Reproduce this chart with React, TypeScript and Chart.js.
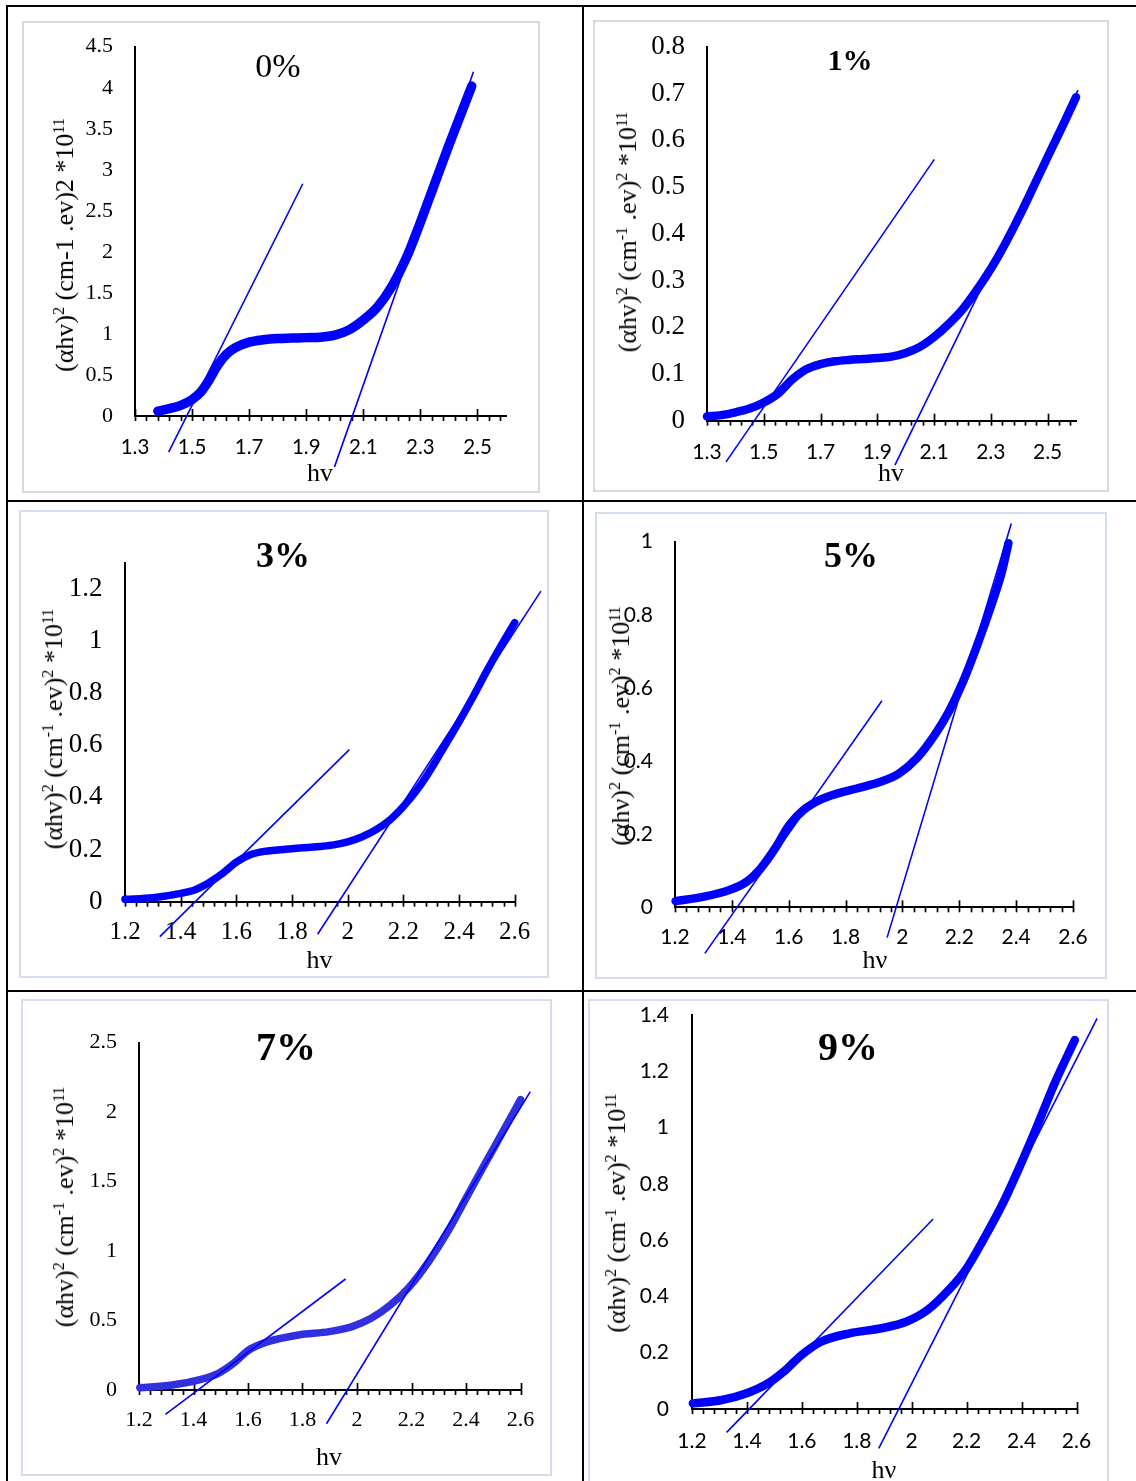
import React, { useEffect, useRef } from "react";
import { Chart, registerables } from "chart.js";
Chart.register(...registerables);

// ---------------- DATA ----------------
// hv (eV) and (αhν)² ×10¹¹
const hv_0 = [1.38, 1.42, 1.46, 1.5, 1.53, 1.56, 1.59, 1.62, 1.65, 1.7, 1.75, 1.8, 1.85, 1.9, 1.95, 2.0, 2.05, 2.1, 2.15, 2.2, 2.25, 2.3, 2.35, 2.4, 2.45, 2.48];
const abs_0 = [0.06, 0.09, 0.13, 0.2, 0.29, 0.44, 0.62, 0.75, 0.83, 0.9, 0.93, 0.945, 0.95, 0.955, 0.96, 0.985, 1.05, 1.17, 1.33, 1.58, 1.92, 2.36, 2.83, 3.3, 3.75, 4.02];

const hv_1 = [1.3, 1.35, 1.4, 1.45, 1.5, 1.55, 1.6, 1.65, 1.7, 1.75, 1.8, 1.85, 1.9, 1.95, 2.0, 2.05, 2.1, 2.15, 2.2, 2.25, 2.3, 2.35, 2.4, 2.45, 2.5, 2.55, 2.6];
const abs_1 = [0.009, 0.012, 0.018, 0.026, 0.039, 0.058, 0.088, 0.11, 0.121, 0.127, 0.13, 0.132, 0.134, 0.137, 0.145, 0.158, 0.179, 0.206, 0.238, 0.279, 0.325, 0.378, 0.437, 0.5, 0.564, 0.627, 0.692];

const hv_3 = [1.2, 1.3, 1.4, 1.45, 1.5, 1.55, 1.6, 1.65, 1.7, 1.8, 1.9, 1.95, 2.0, 2.05, 2.1, 2.15, 2.2, 2.25, 2.3, 2.35, 2.4, 2.45, 2.5, 2.55, 2.6];
const abs_3 = [0.009, 0.015, 0.032, 0.045, 0.072, 0.108, 0.152, 0.18, 0.193, 0.203, 0.212, 0.218, 0.229, 0.248, 0.275, 0.312, 0.365, 0.43, 0.51, 0.6, 0.69, 0.785, 0.885, 0.98, 1.07];

const hv_5 = [1.202, 1.302, 1.39, 1.452, 1.502, 1.552, 1.602, 1.652, 1.7, 1.739, 1.839, 1.926, 1.988, 2.051, 2.113, 2.163, 2.213, 2.263, 2.313, 2.35, 2.373];
const abs_5 = [0.017, 0.029, 0.047, 0.07, 0.107, 0.161, 0.225, 0.266, 0.29, 0.303, 0.325, 0.344, 0.366, 0.408, 0.471, 0.535, 0.617, 0.717, 0.827, 0.918, 0.996];

const hv_7 = [1.203, 1.322, 1.42, 1.491, 1.547, 1.603, 1.673, 1.785, 1.898, 1.982, 2.052, 2.123, 2.193, 2.263, 2.333, 2.403, 2.473, 2.544, 2.6];
const abs_7 = [0.017, 0.036, 0.072, 0.12, 0.192, 0.288, 0.348, 0.396, 0.42, 0.456, 0.516, 0.612, 0.744, 0.924, 1.14, 1.39, 1.64, 1.89, 2.09];

const hv_9 = [1.203, 1.309, 1.399, 1.476, 1.541, 1.599, 1.67, 1.774, 1.89, 1.98, 2.058, 2.135, 2.2, 2.264, 2.329, 2.393, 2.458, 2.523, 2.594];
const abs_9 = [0.02, 0.032, 0.056, 0.091, 0.139, 0.192, 0.239, 0.269, 0.287, 0.31, 0.352, 0.423, 0.5, 0.607, 0.725, 0.861, 1.009, 1.163, 1.311];

// tangent (extrapolation) lines: [x1, x2], [y1, y2]
const tanA_0 = { x: [1.418, 1.888], y: [-0.44, 2.83] };
const tanB_0 = { x: [1.999, 2.486], y: [-0.62, 4.195] };
const tanA_1 = { x: [1.367, 2.101], y: [-0.088, 0.559] };
const tanB_1 = { x: [1.962, 2.607], y: [-0.095, 0.707] };
const tanA_3 = { x: [1.325, 2.006], y: [-0.134, 0.583] };
const tanB_3 = { x: [1.892, 2.694], y: [-0.125, 1.191] };
const tanA_5 = { x: [1.305, 1.928], y: [-0.126, 0.565] };
const tanB_5 = { x: [1.946, 2.383], y: [-0.083, 1.05] };
const tanA_7 = { x: [1.297, 1.958], y: [-0.175, 0.799] };
const tanB_7 = { x: [1.888, 2.636], y: [-0.243, 2.148] };
const tanA_9 = { x: [1.326, 2.078], y: [-0.083, 0.675] };
const tanB_9 = { x: [1.88, 2.675], y: [-0.14, 1.388] };

// tick labels
const xTicksOdd = [1.3, 1.5, 1.7, 1.9, 2.1, 2.3, 2.5];
const xTicksEven = [1.2, 1.4, 1.6, 1.8, 2, 2.2, 2.4, 2.6];
const yTicks_0 = [0, 0.5, 1, 1.5, 2, 2.5, 3, 3.5, 4, 4.5];
const yTicks_1 = [0, 0.1, 0.2, 0.3, 0.4, 0.5, 0.6, 0.7, 0.8];
const yTicks_3 = [0, 0.2, 0.4, 0.6, 0.8, 1, 1.2];
const yTicks_5 = [0, 0.2, 0.4, 0.6, 0.8, 1];
const yTicks_7 = [0, 0.5, 1, 1.5, 2, 2.5];
const yTicks_9 = [0, 0.2, 0.4, 0.6, 0.8, 1, 1.2, 1.4];

const titles = ["0%", "1%", "3%", "5%", "7%", "9%"];

// ---------------- LAYOUT / STYLE ----------------
const SERIF = "'Liberation Serif', 'Times New Roman', serif";
const SANS = "Lato, 'Liberation Sans', sans-serif";
const GRAY = "#d9d9d9";
const BLUEF = "#d3dff0";

type Pt = { x: number[]; y: number[] };
type Cfg = {
  frame: number[]; frameColor: string; canvasH?: number;
  area: number[];
  xMin: number; xMax: number; yMax: number;
  xTicks: number[]; yTicks: number[];
  hv: number[]; val: number[]; tanA: Pt; tanB: Pt;
  curveColor: string; curveWidth: number;
  yFont: [string, number]; yPad: number;
  xFont: [string, number]; xPad: number;
  title: string; titleBold: boolean; titleSize: number; titlePos: number[];
  yTitleOld: boolean; nu: boolean; yTitlePos: number[]; xTitlePos: number[];
};

const panels: Cfg[] = [
  {
    frame: [22, 21, 518, 472], frameColor: GRAY, area: [135, 46.7, 506, 416],
    xMin: 1.3, xMax: 2.6, yMax: 4.5, xTicks: xTicksOdd, yTicks: yTicks_0,
    hv: hv_0, val: abs_0, tanA: tanA_0, tanB: tanB_0, curveColor: "#0000ff", curveWidth: 9.5,
    yFont: [SERIF, 22], yPad: 22, xFont: [SANS, 20.5], xPad: 19,
    title: titles[0], titleBold: false, titleSize: 34, titlePos: [278, 66],
    yTitleOld: true, nu: false, yTitlePos: [65, 245], xTitlePos: [320, 473],
  },
  {
    frame: [593, 20, 516, 472], frameColor: GRAY, area: [707, 46.7, 1076, 420.7],
    xMin: 1.3, xMax: 2.6, yMax: 0.8, xTicks: xTicksOdd, yTicks: yTicks_1,
    hv: hv_1, val: abs_1, tanA: tanA_1, tanB: tanB_1, curveColor: "#0000ff", curveWidth: 8.5,
    yFont: [SERIF, 27], yPad: 22, xFont: [SANS, 21], xPad: 19,
    title: titles[1], titleBold: true, titleSize: 30, titlePos: [850, 60],
    yTitleOld: false, nu: false, yTitlePos: [628, 232], xTitlePos: [891, 473],
  },
  {
    frame: [19, 510, 530, 468], frameColor: BLUEF, area: [125, 562.7, 514.7, 901.7],
    xMin: 1.2, xMax: 2.6, yMax: 1.3, xTicks: xTicksEven, yTicks: yTicks_3,
    hv: hv_3, val: abs_3, tanA: tanA_3, tanB: tanB_3, curveColor: "#0000ff", curveWidth: 7.5,
    yFont: [SERIF, 27], yPad: 22.5, xFont: [SERIF, 25], xPad: 16,
    title: titles[2], titleBold: true, titleSize: 36, titlePos: [283, 555],
    yTitleOld: false, nu: false, yTitlePos: [54, 729], xTitlePos: [319.5, 960],
  },
  {
    frame: [595, 512, 512, 467], frameColor: BLUEF, area: [675, 541.7, 1073, 907.3],
    xMin: 1.2, xMax: 2.6, yMax: 1, xTicks: xTicksEven, yTicks: yTicks_5,
    hv: hv_5, val: abs_5, tanA: tanA_5, tanB: tanB_5, curveColor: "#0000ff", curveWidth: 8.5,
    yFont: [SANS, 21], yPad: 22, xFont: [SANS, 21], xPad: 17.6,
    title: titles[3], titleBold: true, titleSize: 36, titlePos: [851, 555],
    yTitleOld: false, nu: true, yTitlePos: [621, 726], xTitlePos: [875, 960],
  },
  {
    frame: [21, 999, 531, 477], frameColor: BLUEF, area: [139, 1042.7, 520.5, 1390],
    xMin: 1.2, xMax: 2.6, yMax: 2.5, xTicks: xTicksEven, yTicks: yTicks_7,
    hv: hv_7, val: abs_7, tanA: tanA_7, tanB: tanB_7, curveColor: "#3030e0", curveWidth: 7.5,
    yFont: [SERIF, 22], yPad: 22, xFont: [SERIF, 22], xPad: 17,
    title: titles[4], titleBold: true, titleSize: 40, titlePos: [286, 1047],
    yTitleOld: false, nu: false, yTitlePos: [65, 1207], xTitlePos: [329, 1457],
  },
  {
    frame: [588, 999, 521, 500], frameColor: BLUEF, canvasH: 482, area: [692, 1015, 1076.5, 1409],
    xMin: 1.2, xMax: 2.6, yMax: 1.4, xTicks: xTicksEven, yTicks: yTicks_9,
    hv: hv_9, val: abs_9, tanA: tanA_9, tanB: tanB_9, curveColor: "#0000ff", curveWidth: 8.5,
    yFont: [SANS, 21], yPad: 23, xFont: [SANS, 21], xPad: 19.4,
    title: titles[5], titleBold: true, titleSize: 40, titlePos: [848, 1047],
    yTitleOld: false, nu: true, yTitlePos: [617, 1213], xTitlePos: [884, 1470],
  },
];

const fmt = (v: number) => String(Math.round(v * 1000) / 1000);

const excelTicks = {
  id: "excelTicks",
  beforeDatasetsDraw(chart: any, _args: any, opts: any) {
    const xs = chart.scales.x;
    const ys = chart.scales.y;
    const y0 = ys.getPixelForValue(0);
    const ctx = chart.ctx;
    ctx.save();
    ctx.strokeStyle = "#000";
    ctx.lineWidth = 1.7;
    const n = Math.floor((opts.max - opts.min) / opts.step + 1e-6);
    for (let i = 0; i <= n; i++) {
      const v = opts.min + i * opts.step;
      const px = Math.round(xs.getPixelForValue(v)) + 0.5;
      const major = i % opts.every === 0;
      ctx.beginPath();
      ctx.moveTo(px, major ? y0 - 7 : y0);
      ctx.lineTo(px, y0 + 5);
      ctx.stroke();
    }
    ctx.restore();
  },
};

function Panel({ p }: { p: Cfg }) {
  const ref = useRef<HTMLCanvasElement>(null);
  const [fx, fy, fw, fh] = p.frame;
  const ch = p.canvasH ?? fh;
  useEffect(() => {
    const [l, t, r, b] = p.area;
    const toPts = (xs: number[], ys: number[]) => xs.map((x, i) => ({ x, y: ys[i] }));
    const chart = new Chart(ref.current as HTMLCanvasElement, {
      type: "line",
      data: {
        datasets: [
          {
            data: toPts(p.tanA.x, p.tanA.y), borderColor: "#0000ff", borderWidth: 1.6,
            pointRadius: 0, clip: false as any, order: 0,
          },
          {
            data: toPts(p.tanB.x, p.tanB.y), borderColor: "#0000ff", borderWidth: 1.6,
            pointRadius: 0, clip: false as any, order: 0,
          },
          {
            data: toPts(p.hv, p.val), borderColor: p.curveColor, borderWidth: p.curveWidth,
            pointRadius: 0, cubicInterpolationMode: "monotone", borderCapStyle: "round",
            borderJoinStyle: "round", clip: false as any, order: 1,
          },
        ],
      } as any,
      options: {
        responsive: false,
        animation: false,
        events: [],
        layout: { padding: { left: 0, top: t - fy, right: fx + fw - r, bottom: 0 } },
        plugins: {
          legend: { display: false },
          tooltip: { enabled: false },
          excelTicks: { min: p.xMin, max: p.xMax, step: 0.04, every: 5 },
        } as any,
        scales: {
          x: {
            type: "linear", min: p.xMin, max: p.xMax,
            grid: { display: false, drawTicks: false },
            border: { display: true, color: "#000", width: 2 },
            ticks: {
              autoSkip: false, maxRotation: 0, minRotation: 0, padding: p.xPad, color: "#000",
              font: { family: p.xFont[0], size: p.xFont[1] },
              callback: (v: any) => fmt(Number(v)),
            },
            afterBuildTicks: (s: any) => { s.ticks = p.xTicks.map((v) => ({ value: v })); },
            afterFit: (s: any) => {
              s.height = fy + ch - b;
              s.paddingLeft = 0; s.paddingRight = 0; s.paddingTop = 0; s.paddingBottom = 0;
            },
          },
          y: {
            type: "linear", min: 0, max: p.yMax,
            grid: { display: false, drawTicks: false },
            border: { display: true, color: "#000", width: 2 },
            ticks: {
              autoSkip: false, padding: p.yPad, color: "#000",
              font: { family: p.yFont[0], size: p.yFont[1] },
              callback: (v: any) => fmt(Number(v)),
            },
            afterBuildTicks: (s: any) => { s.ticks = p.yTicks.map((v) => ({ value: v })); },
            afterFit: (s: any) => {
              s.width = l - fx;
              s.paddingLeft = 0; s.paddingRight = 0; s.paddingTop = 0; s.paddingBottom = 0;
            },
          },
        } as any,
      },
      plugins: [excelTicks as any],
    });
    return () => chart.destroy();
  }, []);

  const sup: React.CSSProperties = { fontSize: "0.62em", verticalAlign: "0.55em", lineHeight: 0 };
  const h = p.nu ? "hν" : "hv";
  const yTitle = p.yTitleOld ? (
    <>(α{h})<span style={sup}>2</span> (cm-1 .ev)2 *10<span style={sup}>11</span></>
  ) : (
    <>(α{h})<span style={sup}>2</span> (cm<span style={sup}>-1</span> .ev)<span style={sup}>2</span> *10<span style={sup}>11</span></>
  );
  const center: React.CSSProperties = {
    position: "absolute", whiteSpace: "nowrap", lineHeight: 1, color: "#000",
    fontFamily: SERIF,
  };
  return (
    <>
      <div
        style={{
          position: "absolute", left: fx, top: fy, width: fw, height: fh,
          border: `2px solid ${p.frameColor}`, boxSizing: "border-box", background: "#fff",
        }}
      />
      <canvas
        ref={ref}
        width={fw}
        height={ch}
        style={{ position: "absolute", left: fx, top: fy, width: fw, height: ch }}
      />
      <div
        style={{
          ...center, left: p.titlePos[0], top: p.titlePos[1], fontSize: p.titleSize,
          fontWeight: p.titleBold ? "bold" : "normal", transform: "translate(-50%,-50%)",
        }}
      >
        {p.title}
      </div>
      <div
        style={{
          ...center, left: p.yTitlePos[0], top: p.yTitlePos[1], fontSize: 26,
          transform: "translate(-50%,-50%) rotate(-90deg)",
        }}
      >
        {yTitle}
      </div>
      <div
        style={{
          ...center, left: p.xTitlePos[0], top: p.xTitlePos[1], fontSize: 26,
          transform: "translate(-50%,-50%)",
        }}
      >
        {h}
      </div>
    </>
  );
}

export default function App() {
  const line = (l: number, t: number, w: number, h: number) => (
    <div style={{ position: "absolute", left: l, top: t, width: w, height: h, background: "#000" }} />
  );
  return (
    <div
      style={{
        position: "absolute", left: 0, top: 0, width: 1136, height: 1481,
        overflow: "hidden", background: "#fff",
      }}
    >
      {line(6, 5, 1130, 2)}
      {line(6, 500, 1130, 2)}
      {line(6, 990, 1130, 2)}
      {line(6, 5, 2, 1476)}
      {line(582, 5, 2, 1476)}
      {panels.map((p, i) => (
        <Panel key={i} p={p} />
      ))}
    </div>
  );
}
